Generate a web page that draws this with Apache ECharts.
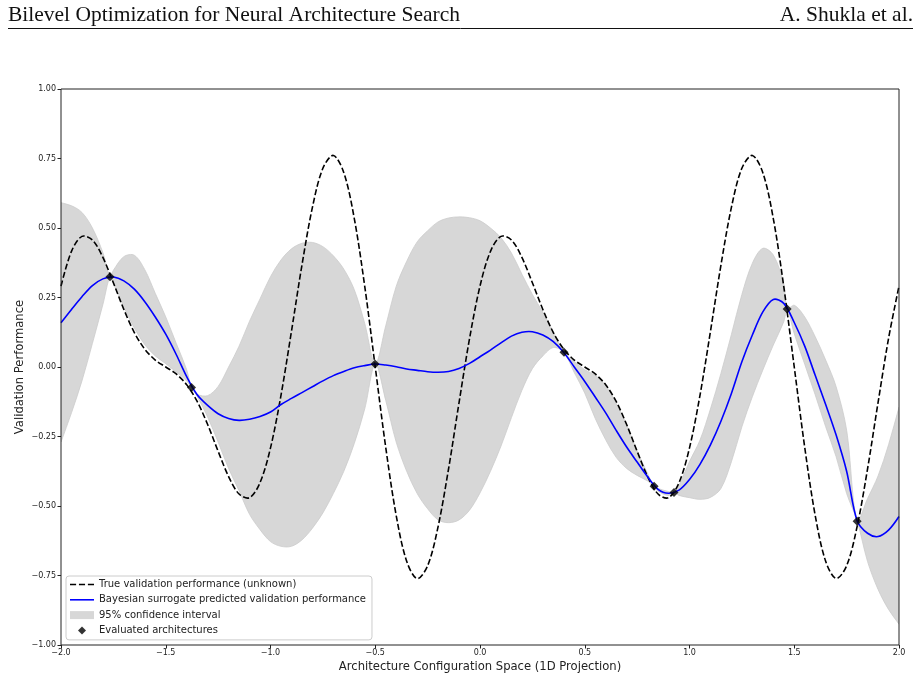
<!DOCTYPE html>
<html>
<head>
<meta charset="utf-8">
<title>Bilevel Optimization for Neural Architecture Search</title>
<script src="https://cdn.jsdelivr.net/npm/echarts@6.0.0/dist/echarts.min.js"></script>
<style>
html,body{margin:0;padding:0;background:#fff;}
#chart{width:921px;height:680px;}
</style>
</head>
<body>
<div id="chart"></div>
<script>
// sample positions along the 1D projection (step 0.05)
var xs = [-2.0,-1.95,-1.9,-1.85,-1.8,-1.75,-1.7,-1.65,-1.6,-1.55,-1.5,-1.45,-1.4,-1.35,-1.3,-1.25,-1.2,-1.15,-1.1,-1.05,
    -1.0,-0.95,-0.9,-0.85,-0.8,-0.75,-0.7,-0.65,-0.6,-0.55,-0.5,-0.45,-0.4,-0.35,-0.3,-0.25,-0.2,-0.15,-0.1,-0.05,
    0.0,0.05,0.1,0.15,0.2,0.25,0.3,0.35,0.4,0.45,0.5,0.55,0.6,0.65,0.7,0.75,0.8,0.85,0.9,0.95,
    1.0,1.05,1.1,1.15,1.2,1.25,1.3,1.35,1.4,1.45,1.5,1.55,1.6,1.65,1.7,1.75,1.8,1.85,1.9,1.95,2.0];
// true validation performance (dashed)
var trueVals = [0.291,0.416,0.47,0.457,0.394,0.303,0.207,0.124,0.064,0.025,0.0,-0.025,-0.064,-0.124,-0.207,-0.303,-0.394,-0.457,-0.47,-0.416,
    -0.291,-0.102,0.128,0.366,0.574,0.715,0.761,0.699,0.534,0.289,0.0,-0.289,-0.534,-0.699,-0.761,-0.715,-0.574,-0.366,-0.128,0.102,
    0.291,0.416,0.47,0.457,0.394,0.303,0.207,0.124,0.064,0.025,0.0,-0.025,-0.064,-0.124,-0.207,-0.303,-0.394,-0.457,-0.47,-0.416,
    -0.291,-0.102,0.128,0.366,0.574,0.715,0.761,0.699,0.534,0.289,0.0,-0.289,-0.534,-0.699,-0.761,-0.715,-0.574,-0.366,-0.128,0.102,0.291];
// surrogate mean (blue)
var meanVals = [0.159,0.207,0.253,0.293,0.317,0.324,0.31,0.28,0.235,0.18,0.118,0.045,-0.035,-0.10,-0.138,-0.168,-0.185,-0.192,-0.188,-0.178,
    -0.162,-0.135,-0.113,-0.092,-0.071,-0.05,-0.031,-0.016,-0.003,0.005,0.011,0.007,0.001,-0.007,-0.012,-0.017,-0.019,-0.016,-0.005,0.013,
    0.037,0.061,0.087,0.111,0.125,0.127,0.115,0.091,0.052,0.0,-0.052,-0.108,-0.165,-0.228,-0.288,-0.342,-0.395,-0.44,-0.454,-0.443,
    -0.405,-0.35,-0.28,-0.195,-0.095,0.019,0.115,0.198,0.243,0.229,0.16,0.075,-0.03,-0.135,-0.245,-0.375,-0.553,-0.598,-0.61,-0.587,-0.538];
// 95% confidence band
var bandX = [-2.0,-1.95,-1.9,-1.85,-1.8,-1.766,-1.75,-1.7,-1.65,-1.6,-1.55,-1.5,-1.45,-1.4,-1.377,-1.35,-1.3,-1.25,-1.2,-1.15,-1.1,-1.05,
    -1.0,-0.95,-0.9,-0.85,-0.8,-0.75,-0.7,-0.65,-0.6,-0.55,-0.5,-0.45,-0.4,-0.35,-0.3,-0.25,-0.2,-0.15,-0.1,-0.05,
    0.0,0.05,0.1,0.15,0.2,0.25,0.3,0.35,0.4,0.45,0.5,0.55,0.6,0.65,0.7,0.75,0.8,0.831,0.85,0.9,0.926,0.95,
    1.0,1.05,1.1,1.15,1.2,1.25,1.3,1.35,1.4,1.45,1.466,1.5,1.55,1.6,1.65,1.7,1.75,1.8,1.85,1.9,1.95,2.0];
var bandUpper = [0.591,0.58,0.556,0.50,0.411,0.325,0.348,0.397,0.402,0.35,0.265,0.18,0.085,-0.01,-0.074,-0.098,-0.103,-0.07,0.0,0.075,0.165,0.245,
    0.325,0.385,0.425,0.445,0.448,0.433,0.40,0.352,0.278,0.156,0.011,0.148,0.29,0.38,0.45,0.49,0.522,0.536,0.54,0.537,
    0.526,0.50,0.465,0.41,0.334,0.261,0.197,0.127,0.053,0.02,-0.01,-0.03,-0.066,-0.13,-0.208,-0.302,-0.383,-0.429,-0.437,-0.448,-0.451,-0.425,
    -0.34,-0.263,-0.151,-0.023,0.117,0.261,0.373,0.427,0.403,0.30,0.209,0.222,0.18,0.109,0.025,-0.071,-0.227,-0.553,-0.473,-0.392,-0.28,-0.145];
var bandLower = [-0.27,-0.165,-0.05,0.085,0.225,0.325,0.30,0.215,0.14,0.08,0.04,0.012,-0.018,-0.05,-0.074,-0.105,-0.18,-0.27,-0.365,-0.445,-0.53,-0.585,
    -0.628,-0.645,-0.645,-0.622,-0.58,-0.525,-0.455,-0.375,-0.275,-0.15,0.011,-0.12,-0.27,-0.375,-0.455,-0.51,-0.55,-0.56,-0.55,-0.515,
    -0.453,-0.375,-0.285,-0.182,-0.084,-0.006,0.04,0.07,0.053,-0.02,-0.094,-0.185,-0.262,-0.325,-0.365,-0.39,-0.41,-0.429,-0.447,-0.462,-0.451,-0.462,
    -0.47,-0.476,-0.469,-0.437,-0.341,-0.215,-0.107,-0.011,0.079,0.163,0.209,0.12,0.01,-0.10,-0.215,-0.323,-0.455,-0.553,-0.70,-0.80,-0.872,-0.925];
// evaluated architectures
var evalX = [-1.766,-1.377,-0.501,0.401,0.831,0.926,1.466,1.800];
var evalY = [0.325,-0.074,0.011,0.053,-0.429,-0.451,0.209,-0.555];

var NAME_TRUE = 'True validation performance (unknown)';
var NAME_MEAN = 'Bayesian surrogate predicted validation performance';
var NAME_CI = '95% confidence interval';
var NAME_EVAL = 'Evaluated architectures';

function pairs(xa, ya) {
    return xa.map(function (x, i) { return [x, ya[i]]; });
}
function fmt(d) {
    return function (v) { return v.toFixed(d).replace('-', '\u2212'); };
}
// one smooth curve through every sample, placed with the chart's own axes
function curve(xa, ya, style) {
    return function (params, api) {
        if (params.dataIndex !== 0) return;
        var pts = xa.map(function (x, i) { return api.coord([x, ya[i]]); });
        return {type: 'polyline', shape: {points: pts, smooth: 0.33}, style: style};
    };
}
// band: upper edge left->right, lower edge right->left (ends doubled so the corners stay square)
function band(params, api) {
    if (params.dataIndex !== 0) return;
    var up = bandX.map(function (x, i) { return api.coord([x, bandUpper[i]]); });
    var lo = bandX.map(function (x, i) { return api.coord([x, bandLower[i]]); }).reverse();
    var pts = [up[0]].concat(up, [up[up.length - 1]], [lo[0]], lo, [lo[lo.length - 1]]);
    return {type: 'polygon', shape: {points: pts, smooth: 0.33},
        style: {fill: '#d7d7d7', stroke: '#cbcbcb', lineWidth: 0.8}};
}

var chart = echarts.init(document.getElementById('chart'));
var font = 'DejaVu Sans';
var ink = '#222';
var serif = {fontFamily: 'Liberation Serif', fontSize: 21.5, fontWeight: 'normal', color: '#111'};

var option = {
    animation: false,
    title: [
        {text: 'Bilevel Optimization for Neural Architecture Search', left: 8, top: 4, padding: 0, textStyle: serif},
        {text: 'A. Shukla et al.', right: 8, top: 4, padding: 0, textStyle: serif}
    ],
    graphic: [
        {type: 'line', shape: {x1: 8, y1: 28.5, x2: 913, y2: 28.5}, style: {stroke: '#111', lineWidth: 1}}
    ],
    grid: {left: 61, right: 22, top: 89, bottom: 35, show: true, z: 10,
        borderColor: ink, borderWidth: 1, backgroundColor: 'transparent'},
    legend: {
        orient: 'vertical', left: 66, top: 576,
        padding: [3, 6, 4, 4],
        itemWidth: 24, itemHeight: 8, itemGap: 4.3,
        backgroundColor: 'rgba(255,255,255,0.85)', borderColor: '#cccccc', borderWidth: 1, borderRadius: 3,
        textStyle: {fontFamily: font, fontSize: 10, color: ink, lineHeight: 11},
        selectedMode: false,
        z: 12,
        data: [
            {name: NAME_TRUE, icon: 'path://M0,0h6v1.6h-6z M8.8,0h6v1.6h-6z M17.6,0h6v1.6h-6z'},
            {name: NAME_MEAN, icon: 'path://M0,0h24v1.6h-24z'},
            {name: NAME_CI, icon: 'rect'},
            {name: NAME_EVAL, icon: 'path://M0,-1L1,0L0,1L-1,0Z'}
        ]
    },
    xAxis: {
        type: 'value', min: -2, max: 2, interval: 0.5,
        name: 'Architecture Configuration Space (1D Projection)',
        nameLocation: 'middle', nameGap: 16, nameMoveOverlap: false,
        nameTextStyle: {fontFamily: font, fontSize: 11.6, color: ink},
        axisLine: {show: false, onZero: false},
        axisTick: {show: true, length: 3.5, lineStyle: {color: ink}},
        axisLabel: {formatter: fmt(1), fontFamily: font, fontSize: 8, color: ink, margin: 4,
            showMinLabel: true, showMaxLabel: true},
        splitLine: {show: false}
    },
    yAxis: {
        type: 'value', min: -1, max: 1, interval: 0.25,
        name: 'Validation Performance',
        nameLocation: 'middle', nameGap: 35, nameMoveOverlap: false,
        nameTextStyle: {fontFamily: font, fontSize: 11.6, color: ink},
        axisLine: {show: false, onZero: false},
        axisTick: {show: true, length: 3.5, lineStyle: {color: ink}},
        axisLabel: {formatter: fmt(2), fontFamily: font, fontSize: 8, color: ink, margin: 5,
            showMinLabel: true, showMaxLabel: true},
        splitLine: {show: false}
    },
    series: [
        {
            name: NAME_CI, type: 'custom', z: 1, silent: true, clip: true,
            data: pairs(bandX, bandUpper), encode: {x: 0, y: 1},
            itemStyle: {color: '#d7d7d7'},
            renderItem: band
        },
        {
            name: NAME_TRUE, type: 'custom', z: 3, silent: true,
            data: pairs(xs, trueVals), encode: {x: 0, y: 1},
            itemStyle: {color: '#000'},
            renderItem: curve(xs, trueVals, {fill: null, stroke: '#000', lineWidth: 1.6, lineDash: [6, 2.6]})
        },
        {
            name: NAME_MEAN, type: 'custom', z: 4, silent: true,
            data: pairs(xs, meanVals), encode: {x: 0, y: 1},
            itemStyle: {color: '#0000ff'},
            renderItem: curve(xs, meanVals, {fill: null, stroke: '#0000ff', lineWidth: 1.6})
        },
        {
            name: NAME_EVAL, type: 'scatter', z: 5, symbol: 'diamond', symbolSize: [9, 9], silent: true,
            data: pairs(evalX, evalY),
            itemStyle: {color: '#000'}
        }
    ]
};
chart.setOption(option);
</script>
</body>
</html>
